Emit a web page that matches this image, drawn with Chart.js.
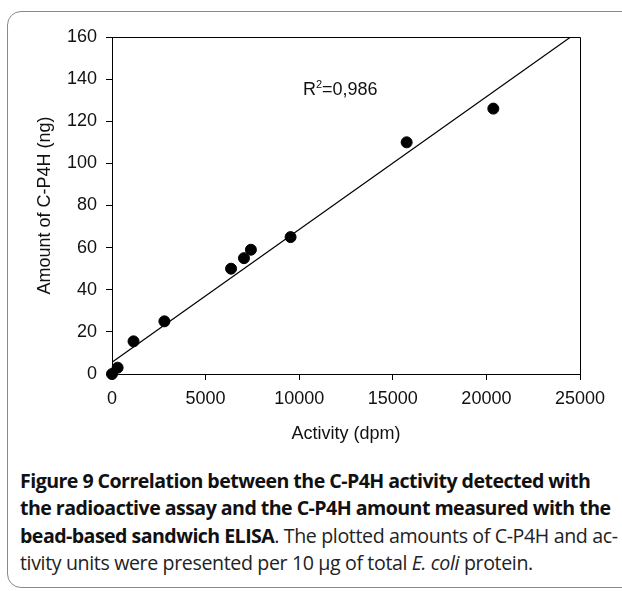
<!DOCTYPE html>
<html>
<head>
<meta charset="utf-8">
<script src="https://cdn.jsdelivr.net/npm/chart.js@4.4.0/dist/chart.umd.min.js"></script>
<style>
  body { margin: 0; background: #fff; width: 622px; height: 591px; overflow: hidden; position: relative; }
  #frame { position: absolute; left: 7px; top: 11px; width: 650px; height: 577px; border: 1px solid #8a8a8a; border-radius: 14px; box-sizing: border-box; }
  #wrap { position: absolute; left: 0; top: 0; width: 622px; height: 445px; }
  #caption { position: absolute; left: 20px; top: 467px; width: 610px; font-family: "Open Sans", sans-serif; font-size: 19.6px; line-height: 27.3px; color: #222; letter-spacing: -0.37px; white-space: nowrap; }
  #caption b { font-weight: 700; color: #111; letter-spacing: -0.55px; }
</style>
</head>
<body>
<div id="frame"></div>
<div id="wrap"><canvas id="grafico"></canvas></div>
<div id="caption">
  <div><b>Figure 9 Correlation between the C-P4H activity detected with</b></div>
  <div><b>the radioactive assay and the C-P4H amount measured with the</b></div>
  <div><b>bead-based sandwich ELISA</b>. The plotted amounts of C-P4H and ac-</div>
  <div>tivity units were presented per 10 µg of total <i>E. coli</i> protein.</div>
</div>
<script>
// measured points (activity in dpm, amount in ng)
var atividade = [0, 300, 1150, 2800, 6360, 7050, 7420, 9540, 15740, 20370];
var quantidade = [0, 3, 15.5, 25, 50, 55, 59, 65, 110, 126];
// regression line ends
var retaX = [0, 24500];
var retaY = [5.6, 160];
var xTicks = [0, 5000, 10000, 15000, 20000, 25000];
var yTicks = [0, 20, 40, 60, 80, 100, 120, 140, 160];
var r2Texto = "0,986";

var fonte = { family: "'Liberation Sans', Arial, sans-serif", size: 18 };

var moldura = {
  id: 'moldura',
  afterDraw: function(chart) {
    var ctx = chart.ctx, a = chart.chartArea;
    ctx.save();
    ctx.strokeStyle = '#000';
    ctx.lineWidth = 1;
    ctx.beginPath();
    ctx.moveTo(a.left, a.top + 0.5);
    ctx.lineTo(a.right + 0.5, a.top + 0.5);
    ctx.lineTo(a.right + 0.5, a.bottom);
    ctx.stroke();
    // R² label
    var x = chart.scales.x.getPixelForValue(10200);
    var y = chart.scales.y.getPixelForValue(135);
    ctx.fillStyle = '#111';
    ctx.textBaseline = 'middle';
    ctx.font = "18px 'Liberation Sans', Arial, sans-serif";
    ctx.fillText('R', x, y);
    var w = ctx.measureText('R').width;
    ctx.font = "11px 'Liberation Sans', Arial, sans-serif";
    ctx.fillText('2', x + w, y - 5);
    var w2 = ctx.measureText('2').width;
    ctx.font = "18px 'Liberation Sans', Arial, sans-serif";
    ctx.fillText('=' + r2Texto, x + w + w2, y);
    ctx.restore();
  }
};

new Chart(document.getElementById("grafico"), {
  type: 'scatter',
  data: {
    datasets: [{
      label: 'Amostras',
      data: atividade.map(function(v, i) { return { x: v, y: quantidade[i] }; }),
      backgroundColor: '#000',
      borderColor: '#000',
      pointRadius: 5.5,
      pointHoverRadius: 5.5,
      clip: false
    }, {
      label: 'Regressão',
      type: 'line',
      data: retaX.map(function(v, i) { return { x: v, y: retaY[i] }; }),
      borderColor: '#000',
      borderWidth: 1.2,
      pointRadius: 0,
      fill: false
    }]
  },
  plugins: [moldura],
  options: {
    responsive: true,
    maintainAspectRatio: false,
    animation: false,
    layout: { padding: { left: 0, top: 37, right: 42, bottom: 0 } },
    plugins: { legend: { display: false }, tooltip: { enabled: false } },
    scales: {
      x: {
        type: 'linear',
        min: 0, max: 25000,
        afterBuildTicks: function(s) { s.ticks = xTicks.map(function(v) { return { value: v }; }); },
        afterFit: function(s) { s.height = 71; },
        grid: { drawOnChartArea: false, drawTicks: true, tickLength: 6, color: '#000' },
        border: { display: true, color: '#000', width: 1 },
        ticks: { color: '#111', font: fonte, padding: 8, maxRotation: 0, callback: function(v) { return v; } },
        title: { display: true, text: 'Activity (dpm)', color: '#111', font: fonte, padding: { top: 6, bottom: 0 } }
      },
      y: {
        type: 'linear',
        min: 0, max: 160,
        afterBuildTicks: function(s) { s.ticks = yTicks.map(function(v) { return { value: v }; }); },
        afterFit: function(s) { s.width = 112; },
        grid: { drawOnChartArea: false, drawTicks: true, tickLength: 6, color: '#000' },
        border: { display: true, color: '#000', width: 1 },
        ticks: { color: '#111', font: fonte, padding: 9 },
        title: { display: true, text: 'Amount of C-P4H (ng)', color: '#111', font: fonte, padding: { top: 34, bottom: 0 } }
      }
    }
  }
});
</script>
</body>
</html>
